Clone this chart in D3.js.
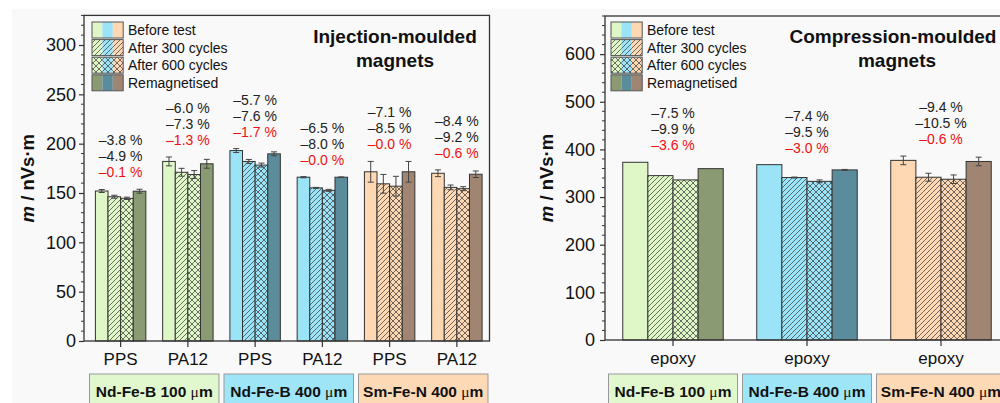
<!DOCTYPE html>
<html><head><meta charset="utf-8">
<script src="https://cdn.jsdelivr.net/npm/d3@7"></script>
<style>
body{margin:0;background:#fff}
svg{display:block;font-family:"Liberation Sans",Arial,sans-serif}
</style>
</head><body>
<svg id="c" width="1000" height="403"></svg>
<script>
// ---------- data ----------
const seriesNames = ["Before test", "After 300 cycles", "After 600 cycles", "Remagnetised"];
const materials = ["Nd-Fe-B 100 ", "Nd-Fe-B 400 ", "Sm-Fe-N 400 "];
const beforeColors = ["#dff7c7", "#9be3f7", "#fdd8b3"];
const remagColors = ["#8a9a72", "#5a8c9b", "#a08672"];
const boxColors = ["#e1f7cd", "#9fe5f8", "#fdd9b6"];

const leftCats = ["PPS", "PA12", "PPS", "PA12", "PPS", "PA12"];
const leftMat = [0, 0, 1, 1, 2, 2];
const leftBefore = [152, 182, 193, 166, 171.5, 170];
const left300 = [146.2, 171, 182, 155.2, 159.3, 155.7];
const left600 = [144.6, 168.7, 178.3, 152.7, 156.9, 154.4];
const leftRemag = [151.8, 179.6, 189.7, 166, 171.5, 169];
const leftErrBefore = [1.5, 4.5, 2, 0.6, 10.5, 3.4];
const leftErr300 = [1.5, 4, 2, 0.5, 9.5, 2.4];
const leftErr600 = [1.2, 4, 2, 1, 10, 2];
const leftErrRemag = [2, 4.5, 2, 0.3, 10.5, 3.3];
const leftPct300 = ["–3.8 %", "–6.0 %", "–5.7 %", "–6.5 %", "–7.1 %", "–8.4 %"];
const leftPct600 = ["–4.9 %", "–7.3 %", "–7.6 %", "–8.0 %", "–8.5 %", "–9.2 %"];
const leftPctRemag = ["–0.1 %", "–1.3 %", "–1.7 %", "–0.0 %", "–0.0 %", "–0.6 %"];
const leftTicks = [0, 50, 100, 150, 200, 250, 300];

const rightCats = ["epoxy", "epoxy", "epoxy"];
const rightMat = [0, 1, 2];
const rightBefore = [373, 368, 377];
const right300 = [345, 341, 341.6];
const right600 = [336, 333, 337.4];
const rightRemag = [359.6, 357, 374.7];
const rightErrBefore = [0, 0, 9];
const rightErr300 = [0, 1, 8.4];
const rightErr600 = [0, 3, 9];
const rightErrRemag = [0, 1, 9];
const rightPct300 = ["–7.5 %", "–7.4 %", "–9.4 %"];
const rightPct600 = ["–9.9 %", "–9.5 %", "–10.5 %"];
const rightPctRemag = ["–3.6 %", "–3.0 %", "–0.6 %"];
const rightTicks = [0, 100, 200, 300, 400, 500, 600];

// ---------- setup ----------
const svg = d3.select("#c");
svg.append("rect").attr("x", 12).attr("y", 9).attr("width", 990).attr("height", 400).attr("fill", "#f9f9f9");

const defs = svg.append("defs");
const ink = "#333";
materials.forEach((m, i) => {
  const h = defs.append("pattern").attr("id", "hatch" + i).attr("patternUnits", "userSpaceOnUse")
    .attr("width", 5).attr("height", 5);
  h.append("rect").attr("width", 5).attr("height", 5).attr("fill", beforeColors[i]);
  h.append("path").attr("d", "M-1,1 L1,-1 M0,5 L5,0 M4,6 L6,4").attr("stroke", ink).attr("stroke-width", 0.7);
  const c = defs.append("pattern").attr("id", "cross" + i).attr("patternUnits", "userSpaceOnUse")
    .attr("width", 6).attr("height", 6);
  c.append("rect").attr("width", 6).attr("height", 6).attr("fill", beforeColors[i]);
  c.append("path").attr("d", "M-1,1 L1,-1 M0,6 L6,0 M5,7 L7,5 M-1,5 L1,7 M0,0 L6,6 M5,-1 L7,1")
    .attr("stroke", ink).attr("stroke-width", 0.7);
});
function fillFor(series, mat) {
  if (series === 0) return beforeColors[mat];
  if (series === 1) return "url(#hatch" + mat + ")";
  if (series === 2) return "url(#cross" + mat + ")";
  return remagColors[mat];
}

function panel(cfg) {
  const g = svg.append("g");
  const y = d3.scaleLinear().domain(cfg.domain).range([cfg.yBottom, cfg.yTop]);
  const x = d3.scaleBand().domain(d3.range(cfg.cats.length)).range(cfg.bandRange).paddingInner(0).paddingOuter(0);
  const bw = x.bandwidth();
  const xs = d3.scaleBand().domain(d3.range(4)).range([bw * 0.125, bw * 0.875]);

  // bars
  cfg.cats.forEach((c, i) => {
    const mat = cfg.mat[i];
    cfg.values.forEach((arr, s) => {
      const v = arr[i];
      const x0 = x(i) + xs(s);
      g.append("rect").attr("x", x0).attr("y", y(v)).attr("width", xs.bandwidth())
        .attr("height", y(0) - y(v)).attr("fill", fillFor(s, mat))
        .attr("stroke", ink).attr("stroke-width", 1);
      const e = cfg.errs[s][i];
      if (e > 0) {
        const cx = x0 + xs.bandwidth() / 2;
        const eg = g.append("g").attr("stroke", "#444").attr("stroke-width", 1);
        eg.append("line").attr("x1", cx).attr("x2", cx).attr("y1", y(v - e)).attr("y2", y(v + e));
        [v - e, v + e].forEach(t => eg.append("line").attr("x1", cx - 3).attr("x2", cx + 3).attr("y1", y(t)).attr("y2", y(t)));
      }
    });
    // annotations
    const top = d3.max(cfg.values.map((arr, s) => arr[i] + cfg.errs[s][i]));
    const yr = y(top) - 17;
    const cx = x(i) + bw / 2;
    [[cfg.pctA[i], yr - 32, "#222"], [cfg.pctB[i], yr - 16, "#222"], [cfg.pctR[i], yr, "#f01010"]].forEach(([t, yy, col]) => {
      g.append("text").attr("x", cx).attr("y", yy).attr("dy", "0.35em").attr("text-anchor", "middle")
        .attr("font-size", 14).attr("fill", col).text(t);
    });
  });

  // frame
  g.append("rect").attr("x", cfg.xLeft).attr("y", cfg.yTop).attr("width", cfg.xRight - cfg.xLeft)
    .attr("height", cfg.yBottom - cfg.yTop).attr("fill", "none").attr("stroke", ink).attr("stroke-width", 1.3);

  // y axis
  const ya = g.append("g").attr("transform", `translate(${cfg.xLeft},0)`)
    .call(d3.axisLeft(y).tickValues(cfg.ticks).tickSize(5).tickPadding(cfg.tickPad));
  ya.select(".domain").remove();
  ya.selectAll(".tick line").attr("stroke", ink).attr("stroke-width", 1.2);
  ya.selectAll(".tick text").attr("font-size", 18).attr("fill", "#111").attr("font-family", "Liberation Sans, Arial, sans-serif");
  const minors = d3.range(0, cfg.domain[1] + 0.001, cfg.minor).filter(v => !cfg.ticks.includes(v));
  g.append("g").selectAll("line").data(minors).join("line")
    .attr("x1", cfg.xLeft - 3).attr("x2", cfg.xLeft).attr("y1", d => y(d)).attr("y2", d => y(d))
    .attr("stroke", ink).attr("stroke-width", 1);

  // x axis
  const xa = g.append("g").attr("transform", `translate(0,${cfg.yBottom})`)
    .call(d3.axisBottom(x).tickFormat(i => cfg.cats[i]).tickSize(6).tickPadding(7));
  xa.select(".domain").remove();
  xa.selectAll(".tick line").attr("stroke", ink).attr("stroke-width", 1.2);
  xa.selectAll(".tick text").attr("font-size", 17).attr("fill", "#111").attr("dy", null).attr("y", 24)
    .attr("dominant-baseline", "auto").attr("font-family", "Liberation Sans, Arial, sans-serif");

  // y label
  const yl = g.append("text").attr("transform", `translate(${cfg.yLabelX},${(cfg.yTop + cfg.yBottom) / 2}) rotate(-90)`)
    .attr("text-anchor", "middle").attr("dy", "0.35em").attr("font-size", 18.5).attr("font-weight", "bold").attr("fill", "#111");
  yl.append("tspan").attr("font-style", "italic").text("m");
  yl.append("tspan").text(" / nVs·m");

  // title
  cfg.title.forEach((t, k) => {
    g.append("text").attr("x", cfg.titleX[k]).attr("y", 36 + k * 24).attr("dy", "0.35em").attr("text-anchor", "middle")
      .attr("font-size", 19).attr("font-weight", "bold").attr("fill", "#111").text(t);
  });

  // legend
  const lg = g.append("g");
  seriesNames.forEach((name, s) => {
    const ry = 22 + s * 17.6;
    materials.forEach((m, mi) => {
      lg.append("rect").attr("x", cfg.legendX + mi * 10.4).attr("y", ry).attr("width", 10.4).attr("height", 16)
        .attr("fill", fillFor(s, mi));
    });
    lg.append("rect").attr("x", cfg.legendX).attr("y", ry).attr("width", 31.2).attr("height", 16)
      .attr("fill", "none").attr("stroke", "#555").attr("stroke-width", 1);
    lg.append("text").attr("x", cfg.legendX + 36).attr("y", ry + 8).attr("dy", "0.35em")
      .attr("font-size", 14).attr("fill", "#111").text(name);
  });

  // material boxes
  materials.forEach((m, mi) => {
    const idx = cfg.mat.map((v, i) => v === mi ? i : -1).filter(i => i >= 0);
    const x0 = x(idx[0]) + 2.5, x1 = x(idx[idx.length - 1]) + bw - 2.5;
    g.append("rect").attr("x", x0).attr("y", 374).attr("width", x1 - x0).attr("height", 40)
      .attr("fill", boxColors[mi]).attr("stroke", "#999").attr("stroke-width", 1);
    const t = g.append("text").attr("x", (x0 + x1) / 2).attr("y", 397).attr("text-anchor", "middle")
      .attr("font-size", 15.5).attr("font-weight", "bold").attr("fill", "#111");
    t.append("tspan").text(m);
    t.append("tspan").attr("font-family", "Liberation Serif, serif").attr("font-weight", "normal").text("μ");
    t.append("tspan").text("m");
  });
}

panel({
  cats: leftCats, mat: leftMat,
  values: [leftBefore, left300, left600, leftRemag],
  errs: [leftErrBefore, leftErr300, leftErr600, leftErrRemag],
  pctA: leftPct300, pctB: leftPct600, pctR: leftPctRemag,
  domain: [0, 330], ticks: leftTicks, minor: 10,
  yTop: 15.4, yBottom: 341, xLeft: 84, xRight: 489.5, bandRange: [87, 490.5],
  tickPad: 3, yLabelX: 28, title: ["Injection-moulded", "magnets"], titleX: [395, 395], legendX: 92
});
panel({
  cats: rightCats, mat: rightMat,
  values: [rightBefore, right300, right600, rightRemag],
  errs: [rightErrBefore, rightErr300, rightErr600, rightErrRemag],
  pctA: rightPct300, pctB: rightPct600, pctR: rightPctRemag,
  domain: [0, 680], ticks: rightTicks, minor: 20,
  yTop: 16, yBottom: 340, xLeft: 605, xRight: 1010, bandRange: [606, 1008],
  tickPad: 5, yLabelX: 547, title: ["Compression-moulded", "magnets"], titleX: [893, 897], legendX: 611
});
</script>
</body></html>
